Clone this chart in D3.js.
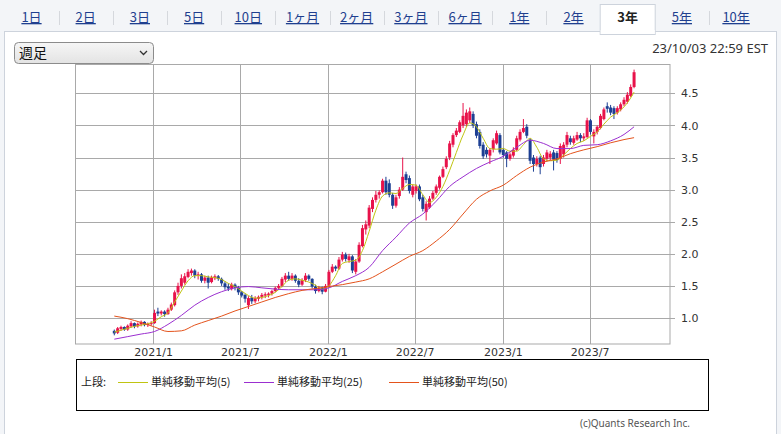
<!doctype html>
<html>

<head>
    <meta charset="utf-8">
    <title>週足チャート</title>
    <script src="https://cdnjs.cloudflare.com/ajax/libs/d3/7.8.5/d3.min.js"></script>
    <style>
        body { margin: 0; background: #fff; }
        svg { display: block; }
    </style>
</head>

<body>
    <div id="chart"></div>

    <script>

        // period tabs across the top
        const tabs = ['1日', '2日', '3日', '5日', '10日', '1ヶ月', '2ヶ月', '3ヶ月', '6ヶ月', '1年', '2年', '3年', '5年', '10年'];
        const activeTab = '3年';

        // weekly candles, first week starts 2020/10/12
        const firstWeek = new Date(2020, 9, 12);

        const open = [
            0.80, 0.77, 0.83, 0.86, 0.82, 0.87, 0.92, 0.87, 0.90, 0.94, 0.89, 0.91, 0.92, 1.10, 1.07, 1.10,
            1.06, 1.13, 1.20, 1.40, 1.50, 1.55, 1.64, 1.70, 1.74, 1.66, 1.68, 1.58, 1.63, 1.56, 1.62, 1.65,
            1.61, 1.54, 1.49, 1.45, 1.52, 1.47, 1.40, 1.36, 1.20, 1.32, 1.26, 1.30, 1.33, 1.35, 1.36, 1.38,
            1.42, 1.47, 1.50, 1.60, 1.66, 1.61, 1.66, 1.58, 1.52, 1.59, 1.66, 1.61, 1.49, 1.42, 1.47, 1.41,
            1.50, 1.72, 1.80, 1.77, 1.91, 1.99, 1.90, 1.96, 1.72, 1.88, 2.12, 2.38, 2.44, 2.70, 2.84, 2.92,
            2.96, 3.14, 3.10, 2.92, 2.75, 2.90, 3.00, 3.24, 3.18, 2.92, 2.98, 3.05, 2.88, 2.65, 2.72, 2.86,
            2.95, 3.03, 3.20, 3.35, 3.50, 3.70, 3.85, 3.90, 4.00, 4.02, 4.08, 4.18, 4.02, 3.90, 3.70, 3.62,
            3.53, 3.63, 3.72, 3.85, 3.62, 3.58, 3.48, 3.53, 3.62, 3.78, 3.90, 3.98, 3.78, 3.50, 3.40, 3.50,
            3.40, 3.48, 3.50, 3.58, 3.57, 3.48, 3.55, 3.70, 3.80, 3.73, 3.78, 3.85, 3.80, 3.82, 4.08, 3.83,
            3.90, 3.96, 4.10, 4.30, 4.28, 4.27, 4.20, 4.25, 4.33, 4.37, 4.46, 4.60
        ];
        const high = [
            0.82, 0.86, 0.88, 0.87, 0.90, 0.95, 0.93, 0.93, 0.96, 0.95, 0.93, 0.95, 1.13, 1.16, 1.12, 1.12,
            1.16, 1.24, 1.43, 1.55, 1.68, 1.70, 1.76, 1.77, 1.76, 1.72, 1.70, 1.66, 1.66, 1.66, 1.68, 1.67,
            1.63, 1.57, 1.54, 1.55, 1.54, 1.50, 1.42, 1.38, 1.34, 1.36, 1.34, 1.35, 1.39, 1.40, 1.40, 1.44,
            1.49, 1.53, 1.64, 1.70, 1.72, 1.70, 1.68, 1.62, 1.62, 1.70, 1.68, 1.62, 1.52, 1.50, 1.49, 1.53,
            1.75, 1.84, 1.82, 1.95, 2.03, 2.02, 2.00, 1.98, 1.92, 2.18, 2.45, 2.52, 2.76, 2.88, 2.98, 2.99,
            3.17, 3.20, 3.16, 2.95, 2.92, 3.04, 3.50, 3.28, 3.22, 3.08, 3.08, 3.08, 2.92, 2.82, 2.90, 2.98,
            3.08, 3.22, 3.36, 3.52, 3.76, 3.88, 3.96, 4.08, 4.35, 4.25, 4.28, 4.22, 4.06, 3.94, 3.74, 3.66,
            3.65, 3.80, 3.92, 3.88, 3.65, 3.60, 3.58, 3.66, 3.84, 3.94, 4.10, 4.02, 3.80, 3.54, 3.52, 3.53,
            3.54, 3.62, 3.60, 3.62, 3.60, 3.72, 3.74, 3.90, 3.84, 3.84, 3.90, 3.88, 3.88, 4.12, 4.10, 3.94,
            4.00, 4.18, 4.28, 4.36, 4.32, 4.30, 4.30, 4.36, 4.44, 4.52, 4.64, 4.87
        ];
        const low = [
            0.73, 0.75, 0.80, 0.80, 0.80, 0.85, 0.84, 0.85, 0.87, 0.87, 0.86, 0.88, 0.91, 1.03, 1.04, 1.02,
            1.05, 1.11, 1.18, 1.36, 1.46, 1.52, 1.62, 1.66, 1.62, 1.60, 1.55, 1.54, 1.46, 1.54, 1.59, 1.58,
            1.50, 1.44, 1.42, 1.43, 1.43, 1.36, 1.32, 1.24, 1.14, 1.22, 1.23, 1.26, 1.29, 1.31, 1.32, 1.35,
            1.40, 1.44, 1.48, 1.56, 1.58, 1.58, 1.55, 1.48, 1.50, 1.56, 1.58, 1.46, 1.38, 1.40, 1.37, 1.40,
            1.48, 1.70, 1.73, 1.75, 1.88, 1.88, 1.86, 1.70, 1.68, 1.86, 2.10, 2.30, 2.40, 2.65, 2.80, 2.86,
            2.94, 2.92, 2.88, 2.70, 2.72, 2.86, 2.98, 3.10, 2.94, 2.88, 2.94, 2.82, 2.66, 2.52, 2.70, 2.84,
            2.92, 3.00, 3.18, 3.32, 3.46, 3.66, 3.82, 3.88, 3.96, 3.98, 4.04, 3.96, 3.80, 3.64, 3.48, 3.50,
            3.40, 3.58, 3.70, 3.55, 3.50, 3.35, 3.45, 3.50, 3.60, 3.75, 3.88, 3.80, 3.40, 3.28, 3.36, 3.24,
            3.36, 3.44, 3.46, 3.30, 3.42, 3.40, 3.50, 3.66, 3.70, 3.70, 3.76, 3.74, 3.76, 3.80, 3.86, 3.72,
            3.86, 3.94, 4.08, 4.20, 4.16, 4.10, 4.17, 4.22, 4.30, 4.34, 4.44, 4.58
        ];
        const close = [
            0.76, 0.84, 0.86, 0.82, 0.88, 0.92, 0.87, 0.91, 0.94, 0.89, 0.91, 0.92, 1.08, 1.07, 1.10, 1.06,
            1.13, 1.21, 1.40, 1.50, 1.62, 1.65, 1.72, 1.74, 1.66, 1.68, 1.58, 1.63, 1.55, 1.63, 1.65, 1.61,
            1.54, 1.48, 1.46, 1.52, 1.47, 1.40, 1.35, 1.30, 1.31, 1.26, 1.31, 1.33, 1.36, 1.37, 1.38, 1.42,
            1.47, 1.50, 1.61, 1.66, 1.61, 1.66, 1.58, 1.52, 1.59, 1.66, 1.61, 1.49, 1.42, 1.47, 1.41, 1.50,
            1.72, 1.80, 1.77, 1.91, 1.99, 1.92, 1.96, 1.74, 1.88, 2.14, 2.40, 2.46, 2.72, 2.84, 2.92, 2.96,
            3.14, 2.96, 2.92, 2.75, 2.88, 3.00, 3.20, 3.15, 2.98, 3.05, 3.05, 2.85, 2.70, 2.78, 2.86, 2.95,
            3.05, 3.20, 3.32, 3.48, 3.72, 3.85, 3.92, 4.05, 4.15, 4.20, 4.22, 4.00, 3.84, 3.68, 3.52, 3.55,
            3.62, 3.77, 3.88, 3.58, 3.54, 3.48, 3.55, 3.62, 3.80, 3.90, 3.96, 3.84, 3.45, 3.40, 3.48, 3.35,
            3.50, 3.58, 3.56, 3.47, 3.46, 3.68, 3.70, 3.85, 3.74, 3.80, 3.85, 3.80, 3.83, 4.08, 3.90, 3.90,
            3.98, 4.15, 4.25, 4.26, 4.20, 4.18, 4.27, 4.33, 4.40, 4.48, 4.60, 4.83
        ];

        // moving averages: [week index, value]
        const ma5 = [
            [0, 0.78], [2, 0.81], [4, 0.84], [6, 0.87], [8, 0.89], [10, 0.91], [12, 0.95], [14, 1.02],
            [16, 1.08], [18, 1.25], [20, 1.42], [22, 1.58], [24, 1.66], [26, 1.66], [28, 1.64], [30, 1.63],
            [32, 1.60], [34, 1.54], [36, 1.49], [38, 1.42], [40, 1.35], [42, 1.31], [44, 1.32], [46, 1.35],
            [48, 1.40], [50, 1.49], [52, 1.59], [54, 1.61], [56, 1.59], [58, 1.56], [60, 1.51], [62, 1.45],
            [64, 1.50], [66, 1.66], [68, 1.85], [70, 1.88], [72, 1.90], [74, 2.05], [76, 2.35], [78, 2.68],
            [80, 2.90], [82, 2.95], [84, 2.94], [86, 3.02], [88, 3.08], [90, 3.07], [92, 2.92], [94, 2.80],
            [96, 2.88], [98, 3.05], [100, 3.30], [102, 3.58], [104, 3.85], [106, 4.04], [108, 3.98], [110, 3.80],
            [112, 3.64], [114, 3.63], [116, 3.64], [118, 3.60], [120, 3.60], [122, 3.70], [124, 3.80], [126, 3.66],
            [128, 3.48], [130, 3.45], [132, 3.46], [134, 3.54], [136, 3.64], [138, 3.72], [140, 3.76], [142, 3.83],
            [144, 3.90], [146, 4.02], [148, 4.13], [150, 4.20], [152, 4.29], [154, 4.43], [155, 4.52]
        ];
        const ma25 = [
            [0, 0.67], [4, 0.71], [8, 0.75], [12, 0.79], [16, 0.90], [20, 1.04], [24, 1.20], [28, 1.32],
            [32, 1.41], [36, 1.47], [40, 1.49], [44, 1.47], [48, 1.45], [52, 1.44], [56, 1.44], [60, 1.44],
            [64, 1.47], [68, 1.57], [72, 1.66], [76, 1.79], [80, 2.05], [84, 2.26], [88, 2.48], [92, 2.62],
            [96, 2.82], [100, 3.05], [104, 3.20], [108, 3.33], [112, 3.43], [116, 3.52], [120, 3.66], [124, 3.77],
            [128, 3.72], [132, 3.64], [136, 3.64], [140, 3.69], [144, 3.70], [148, 3.76], [152, 3.86], [155, 3.98]
        ];
        const ma50 = [
            [0, 1.03], [4, 0.99], [8, 0.93], [12, 0.86], [16, 0.79], [20, 0.80], [24, 0.89], [28, 0.96],
            [32, 1.03], [36, 1.11], [40, 1.18], [44, 1.25], [48, 1.32], [52, 1.38], [56, 1.43], [60, 1.46],
            [64, 1.49], [68, 1.52], [72, 1.56], [76, 1.61], [80, 1.72], [84, 1.84], [88, 1.96], [92, 2.05],
            [96, 2.20], [100, 2.38], [104, 2.62], [108, 2.85], [112, 2.98], [116, 3.07], [120, 3.22], [124, 3.35],
            [128, 3.43], [132, 3.48], [136, 3.56], [140, 3.62], [144, 3.67], [148, 3.73], [152, 3.78], [155, 3.81]
        ];

        const yTicks = [1.0, 1.5, 2.0, 2.5, 3.0, 3.5, 4.0, 4.5];
        const xTicks = [new Date(2021, 0, 1), new Date(2021, 6, 1), new Date(2022, 0, 1),
                        new Date(2022, 6, 1), new Date(2023, 0, 1), new Date(2023, 6, 1)];

        const legendLabels = ['単純移動平均(5)', '単純移動平均(25)', '単純移動平均(50)'];
        const legendColors = ['#c0c412', '#9b2fd0', '#e4531c'];

        const W = 781, H = 434;
        const svg = d3.select('#chart').append('svg').attr('width', W).attr('height', H);

        // == page frame and tabs ==
        svg.append('rect').attr('width', W).attr('height', H).attr('fill', '#f3f5f8');
        svg.append('rect')
            .attr('x', 4.5).attr('y', 31.5).attr('width', 772).attr('height', H)
            .attr('fill', '#fff').attr('stroke', '#cdd3dc');

        const tabStep = 54.2, tabStart = 31.5;
        const ai = tabs.indexOf(activeTab);
        svg.append('rect')
            .attr('x', tabStart + ai * tabStep - 27.5).attr('y', 4.5)
            .attr('width', 55).attr('height', 30)
            .attr('fill', '#fff').attr('stroke', '#cdd3dc');
        svg.append('rect')
            .attr('x', tabStart + ai * tabStep - 27).attr('y', 30)
            .attr('width', 54).attr('height', 4).attr('fill', '#fff');

        svg.selectAll('.sep')
            .data(tabs.slice(0, -1))
            .join('line')
            .attr('x1', (d, i) => i === ai || i === ai - 1 ? -10 : Math.round(tabStart + (i + 0.5) * tabStep) + 0.5)
            .attr('x2', (d, i) => i === ai || i === ai - 1 ? -10 : Math.round(tabStart + (i + 0.5) * tabStep) + 0.5)
            .attr('y1', 11).attr('y2', 25)
            .attr('stroke', '#d5d8dd');

        svg.selectAll('.tab')
            .data(tabs)
            .join('text')
            .attr('x', (d, i) => tabStart + i * tabStep)
            .attr('y', 22)
            .attr('text-anchor', 'middle')
            .style('font-family', '"Noto Sans CJK JP", sans-serif')
            .style('font-size', '13px')
            .style('font-weight', d => d === activeTab ? 'bold' : 'normal')
            .style('text-decoration', d => d === activeTab ? 'none' : 'underline')
            .attr('fill', d => d === activeTab ? '#222' : '#1f3f8f')
            .text(d => d);

        // dropdown
        const grad = svg.append('defs').append('linearGradient')
            .attr('id', 'sel').attr('x1', 0).attr('x2', 0).attr('y1', 0).attr('y2', 1);
        grad.append('stop').attr('offset', 0).attr('stop-color', '#f6f6f6');
        grad.append('stop').attr('offset', 1).attr('stop-color', '#e3e3e3');
        svg.append('rect')
            .attr('x', 14.5).attr('y', 42.5).attr('width', 139).attr('height', 21).attr('rx', 4)
            .attr('fill', 'url(#sel)').attr('stroke', '#8c8c8c');
        svg.append('text')
            .attr('x', 19).attr('y', 58)
            .style('font-family', '"Noto Sans CJK JP", sans-serif').style('font-size', '14px')
            .attr('fill', '#111').text('週足');
        svg.append('path')
            .attr('d', 'M140,51 l3.5,3.5 l3.5,-3.5')
            .attr('fill', 'none').attr('stroke', '#333').attr('stroke-width', 1.3);

        svg.append('text')
            .attr('x', 768).attr('y', 53).attr('text-anchor', 'end')
            .style('font-family', '"Noto Sans", sans-serif').style('font-size', '13px')
            .attr('fill', '#333').text('23/10/03 22:59 EST');

        // == chart ==
        const plotL = 75.5, plotR = 670, plotT = 64.5, plotB = 344;

        const x = d3.scaleTime()
            .domain([new Date(2020, 6, 23), new Date(2023, 11, 16)])
            .range([plotL, plotR]);
        const y = d3.scaleLinear()
            .domain([0.595, 4.95])
            .range([plotB, plotT]);

        const weekX = i => x(d3.timeDay.offset(firstWeek, 7 * i));
        const px = v => Math.round(v) + 0.5;

        const grid = svg.append('g').attr('stroke', '#a9a9a9').attr('stroke-width', 1);
        grid.selectAll('.h')
            .data(yTicks)
            .join('line')
            .attr('x1', plotL).attr('x2', plotR + 5)
            .attr('y1', d => px(y(d))).attr('y2', d => px(y(d)));
        grid.selectAll('.v')
            .data(xTicks)
            .join('line')
            .attr('x1', d => px(x(d))).attr('x2', d => px(x(d)))
            .attr('y1', plotT).attr('y2', plotB);
        grid.append('rect')
            .attr('x', plotL).attr('y', plotT)
            .attr('width', plotR - plotL).attr('height', plotB - plotT)
            .attr('fill', 'none');

        // y axis labels on the right
        const yAxis = svg.append('g')
            .attr('transform', `translate(${plotR},0)`)
            .call(d3.axisRight(y).tickValues(yTicks).tickSize(0).tickPadding(11).tickFormat(d3.format('.1f')));
        yAxis.select('.domain').remove();
        yAxis.selectAll('text')
            .style('font-family', '"DejaVu Sans", sans-serif').style('font-size', '11px').attr('fill', '#333');

        // x axis labels
        const xAxis = svg.append('g')
            .attr('transform', `translate(0,${plotB})`)
            .call(d3.axisBottom(x).tickValues(xTicks).tickSize(0).tickPadding(4).tickFormat(d3.timeFormat('%Y/%-m')));
        xAxis.select('.domain').remove();
        xAxis.selectAll('text')
            .style('font-family', '"DejaVu Sans", sans-serif').style('font-size', '11px').attr('fill', '#333');

        // candles
        const up = '#e8124a', down = '#1d3f93';
        const candles = svg.append('g')
            .selectAll('g')
            .data(close.map((c, i) => ({ i, o: open[i], h: high[i], l: low[i], c })))
            .join('g');
        candles.append('line')
            .attr('x1', d => weekX(d.i)).attr('x2', d => weekX(d.i))
            .attr('y1', d => y(d.h)).attr('y2', d => y(d.l))
            .attr('stroke', d => d.c >= d.o ? up : down).attr('stroke-width', 1);
        candles.append('rect')
            .attr('x', d => weekX(d.i) - 1.5)
            .attr('width', 3)
            .attr('y', d => y(Math.max(d.o, d.c)))
            .attr('height', d => Math.max(1, Math.abs(y(d.o) - y(d.c))))
            .attr('fill', d => d.c >= d.o ? up : down);

        // moving average lines
        const maLine = d3.line()
            .x(d => weekX(d[0]))
            .y(d => y(d[1]))
            .curve(d3.curveMonotoneX);
        [ma5, ma25, ma50].forEach((ma, k) => {
            svg.append('path')
                .attr('d', maLine(ma))
                .attr('fill', 'none')
                .attr('stroke', legendColors[k])
                .attr('stroke-width', 1);
        });

        // == legend ==
        svg.append('rect')
            .attr('x', 76.5).attr('y', 359.5).attr('width', 632).attr('height', 51)
            .attr('fill', '#fff').attr('stroke', '#000');
        const lf = '"Noto Sans CJK JP", sans-serif';
        svg.append('text')
            .attr('x', 81).attr('y', 386)
            .style('font-family', lf).style('font-size', '11px').attr('fill', '#222')
            .text('上段:');
        const legendX = [118, 244, 389];
        legendLabels.forEach((lab, k) => {
            svg.append('line')
                .attr('x1', legendX[k]).attr('x2', legendX[k] + 30)
                .attr('y1', 382.5).attr('y2', 382.5)
                .attr('stroke', legendColors[k]).attr('stroke-width', 1);
            svg.append('text')
                .attr('x', legendX[k] + 33).attr('y', 386)
                .style('font-family', lf).style('font-size', '11px').attr('fill', '#222')
                .text(lab);
        });

        svg.append('text')
            .attr('x', 690).attr('y', 427).attr('text-anchor', 'end')
            .style('font-family', '"Noto Sans", sans-serif').style('font-size', '10px')
            .attr('fill', '#555').text('(c)Quants Research Inc.');

    </script>
</body>

</html>
